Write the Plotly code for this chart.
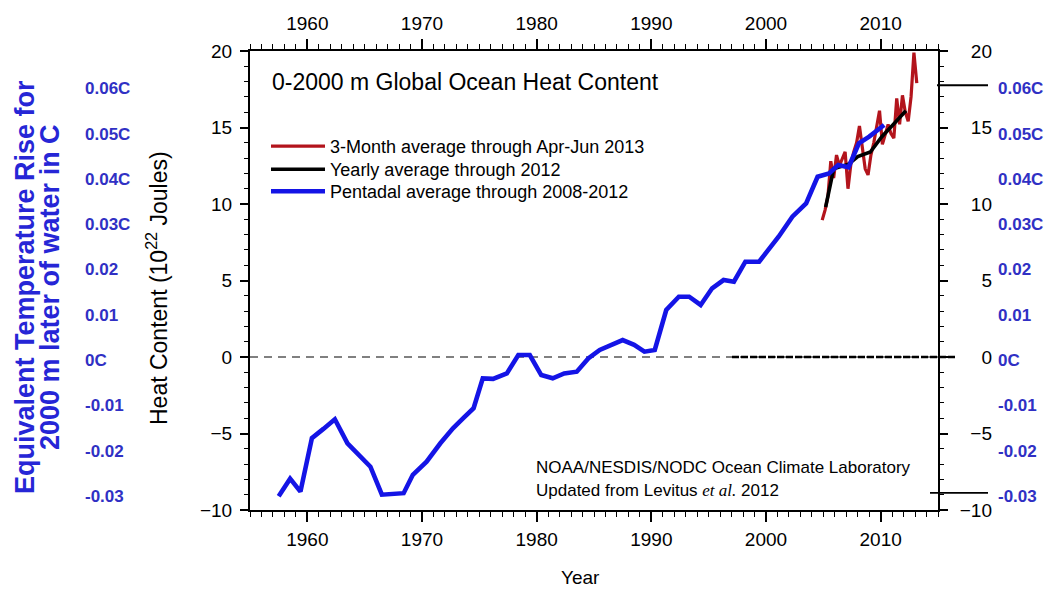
import plotly.graph_objects as go

# ---------------- data ----------------
pent_year = [1957.5, 1958.5, 1959.4, 1960.4, 1961.4, 1962.4, 1963.5, 1964.5, 1965.5, 1966.5,
             1967.5, 1968.4, 1969.2, 1970.4, 1971.6, 1972.7, 1973.6, 1974.5, 1975.3, 1976.2,
             1977.4, 1978.4, 1979.4, 1980.4, 1981.4, 1982.4, 1983.5, 1984.5, 1985.5, 1986.5,
             1987.5, 1988.5, 1989.4, 1990.3, 1991.3, 1992.4, 1993.3, 1994.3, 1995.3, 1996.3,
             1997.2, 1998.2, 1999.4, 2000.2, 2001.1, 2002.3, 2003.5, 2004.5, 2005.5, 2006.3,
             2007.2, 2008.1, 2009.0, 2010.3]
pent_hc = [-9.1, -7.95, -8.8, -5.3, -4.7, -4.07, -5.64, -6.4, -7.17, -9.0,
           -8.95, -8.9, -7.7, -6.84, -5.64, -4.66, -4.0, -3.35, -1.4, -1.43,
           -1.07, 0.13, 0.13, -1.18, -1.39, -1.07, -0.96, -0.1, 0.46, 0.8,
           1.11, 0.8, 0.35, 0.46, 3.07, 3.94, 3.94, 3.4, 4.49, 5.03,
           4.92, 6.23, 6.23, 7.0, 7.86, 9.17, 10.04, 11.78, 12.0, 12.55,
           12.4, 13.97, 14.4, 15.16]

year_x = [2005.2, 2005.9, 2007.2, 2008.0, 2009.1, 2010.1, 2011.1, 2012.2]
year_hc = [9.8, 12.3, 12.6, 13.1, 13.4, 14.4, 15.2, 16.1]

q_x = [2004.9, 2005.15, 2005.4, 2005.65, 2005.9, 2006.15, 2006.4, 2006.65, 2006.9, 2007.15,
       2007.4, 2007.65, 2007.9, 2008.15, 2008.4, 2008.65, 2008.9, 2009.15, 2009.4, 2009.65,
       2009.9, 2010.15, 2010.4, 2010.65, 2010.9, 2011.15, 2011.4, 2011.65, 2011.9, 2012.15,
       2012.4, 2012.65, 2012.9, 2013.15]
q_hc = [8.95, 9.6, 10.5, 12.8, 11.7, 13.2, 12.5, 13.0, 13.4, 11.0,
        12.6, 13.4, 14.0, 15.1, 13.6, 12.3, 11.9, 13.2, 14.0, 15.0,
        16.1, 13.9, 14.5, 15.2, 14.6, 14.3, 16.9, 15.2, 17.1, 16.0,
        15.4, 17.0, 19.9, 17.9]

x_ticks = [1960, 1970, 1980, 1990, 2000, 2010]
hc_ticks = [-10, -5, 0, 5, 10, 15, 20]
temp_vals = [0.06, 0.05, 0.04, 0.03, 0.02, 0.01, 0.0, -0.01, -0.02, -0.03]
temp_text = ["0.06C", "0.05C", "0.04C", "0.03C", "0.02", "0.01", "0C", "-0.01", "-0.02", "-0.03"]
HC_PER_DEGC = 296.0   # 10^22 J per 1 C for 0-2000 m layer (as drawn)

legend_names = ["3-Month average through Apr-Jun 2013",
                "Yearly average through 2012",
                "Pentadal average through 2008-2012"]

# ---------------- layout helpers ----------------
W, H = 1050, 592
ML, MR, MT, MB = 10, 10, 10, 10
PW, PH = W - ML - MR, H - MT - MB


def px(xp):
    return (xp - ML) / PW


def py(yp):
    return (H - MB - yp) / PH


FONT = "Liberation Sans, Arial, Helvetica, sans-serif"
BLUE_TXT = "#3030c4"
temp_pos = [t * HC_PER_DEGC - 0.2 for t in temp_vals]

fig = go.Figure()
fig.add_trace(go.Scatter(x=q_x, y=q_hc, mode="lines", name=legend_names[0],
                         line=dict(color="#b3141c", width=3.2), legend="legend"))
fig.add_trace(go.Scatter(x=year_x, y=year_hc, mode="lines", name=legend_names[1],
                         line=dict(color="black", width=3.6), legend="legend2"))
fig.add_trace(go.Scatter(x=pent_year, y=pent_hc, mode="lines", name=legend_names[2],
                         line=dict(color="#1414e6", width=4.6), legend="legend3"))

# invisible helper traces so the extra axes are drawn
for xa, ya in [("x2", "y"), ("x", "y2"), ("x", "y3"), ("x", "y4"), ("x", "y5")]:
    fig.add_trace(go.Scatter(x=pent_year, y=pent_hc, xaxis=xa, yaxis=ya, mode="lines",
                             line=dict(width=0), opacity=0, showlegend=False,
                             hoverinfo="skip"))

xdom = [px(250), px(938)]
ydom = [py(510), py(51)]

common_x = dict(range=[1955, 2015], tickvals=x_ticks, ticks="outside", ticklen=10,
                tickwidth=1.5, tickcolor="black", showgrid=False, zeroline=False,
                showline=True, linewidth=2, linecolor="black",
                tickfont=dict(family=FONT, size=19, color="black"),
                minor=dict(dtick=1, tick0=1955, ticks="outside", ticklen=5,
                           tickwidth=1.2, tickcolor="black", showgrid=False))
common_y = dict(range=[-10, 20], tickvals=hc_ticks, ticks="outside", ticklen=8,
                tickwidth=1.5, tickcolor="black", showgrid=False, zeroline=False,
                showline=True, linewidth=2, linecolor="black",
                tickfont=dict(family=FONT, size=19, color="black"),
                minor=dict(dtick=1, tick0=-10, ticks="outside", ticklen=4,
                           tickwidth=1.2, tickcolor="black", showgrid=False))

leg_common = dict(xanchor="left", yanchor="top", bgcolor="rgba(0,0,0,0)",
                  font=dict(family=FONT, size=18), itemwidth=54)

fig.update_layout(
    width=W, height=H,
    margin=dict(l=ML, r=MR, t=MT, b=MB, autoexpand=False),
    paper_bgcolor="white", plot_bgcolor="white",
    font=dict(family=FONT, color="black"),
    xaxis=dict(domain=xdom, anchor="y", side="bottom", ticklabelstandoff=1, **common_x),
    xaxis2=dict(domain=xdom, anchor="y", side="top", overlaying="x", matches="x",
                ticklabelstandoff=1, **common_x),
    yaxis=dict(domain=ydom, anchor="x", side="left", ticklabelstandoff=4, **common_y),
    yaxis2=dict(domain=ydom, anchor="x", side="right", overlaying="y", matches="y",
                showticklabels=False, **common_y),
    yaxis3=dict(domain=ydom, anchor="free", position=px(992), side="left",
                overlaying="y", matches="y", range=[-10, 20], tickvals=hc_ticks,
                ticks="", showline=False, showgrid=False, zeroline=False,
                tickfont=dict(family=FONT, size=19, color="black")),
    yaxis4=dict(domain=ydom, anchor="free", position=px(84), side="right",
                overlaying="y", matches="y", range=[-10, 20], tickvals=temp_pos,
                ticktext=temp_text, ticks="", showline=False, showgrid=False,
                zeroline=False,
                tickfont=dict(family=FONT, size=17, color=BLUE_TXT, weight="bold")),
    yaxis5=dict(domain=ydom, anchor="free", position=px(997), side="right",
                overlaying="y", matches="y", range=[-10, 20], tickvals=temp_pos,
                ticktext=temp_text, ticks="", showline=False, showgrid=False,
                zeroline=False,
                tickfont=dict(family=FONT, size=17, color=BLUE_TXT, weight="bold")),
    legend=dict(x=px(266), y=py(128), **leg_common),
    legend2=dict(x=px(266), y=py(151), **leg_common),
    legend3=dict(x=px(266), y=py(173), **leg_common),
    showlegend=True,
)

# reference lines
fig.add_shape(type="line", xref="x domain", yref="y", x0=0, x1=1, y0=0, y1=0,
              line=dict(color="#808080", width=2, dash="8px,6px"), layer="below")
fig.add_shape(type="line", xref="paper", yref="y", x0=px(732), x1=px(957), y0=0, y1=0,
              line=dict(color="black", width=2.5, dash="7px,2px"))
fig.add_shape(type="line", xref="paper", yref="y", x0=px(937), x1=px(988),
              y0=temp_vals[0] * HC_PER_DEGC, y1=temp_vals[0] * HC_PER_DEGC,
              line=dict(color="black", width=1.8))
fig.add_shape(type="line", xref="paper", yref="y", x0=px(930), x1=px(988),
              y0=temp_vals[-1] * HC_PER_DEGC, y1=temp_vals[-1] * HC_PER_DEGC,
              line=dict(color="black", width=1.8))

# texts
fig.add_annotation(text="0-2000 m Global Ocean Heat Content", xref="paper", yref="paper",
                   x=px(270), y=py(82), xanchor="left", yanchor="middle", showarrow=False,
                   font=dict(family=FONT, size=23, color="black"))
fig.add_annotation(text="NOAA/NESDIS/NODC Ocean Climate Laboratory", xref="paper",
                   yref="paper", x=px(534), y=py(467), xanchor="left", yanchor="middle",
                   showarrow=False, font=dict(family=FONT, size=17, color="black"))
fig.add_annotation(text="Updated from Levitus <span style='font-family:Liberation Serif'><i>et al.</i></span> 2012",
                   xref="paper", yref="paper", x=px(534), y=py(490), xanchor="left",
                   yanchor="middle", showarrow=False,
                   font=dict(family=FONT, size=17, color="black"))
fig.add_annotation(text="Year", xref="paper", yref="paper", x=px(580), y=py(577),
                   xanchor="center", yanchor="middle", showarrow=False,
                   font=dict(family=FONT, size=19, color="black"))
fig.add_annotation(text="Heat Content (10<sup>22</sup> Joules)", xref="paper", yref="paper",
                   x=px(157), y=py(288), xanchor="center", yanchor="middle",
                   textangle=-90, showarrow=False,
                   font=dict(family=FONT, size=23, color="black"))
fig.add_annotation(text="Equivalent Temperature Rise for", xref="paper", yref="paper",
                   x=px(25), y=py(287), xanchor="center", yanchor="middle",
                   textangle=-90, showarrow=False,
                   font=dict(family=FONT, size=27, color="#2626d6", weight="bold"))
fig.add_annotation(text="2000 m later of water in C", xref="paper", yref="paper",
                   x=px(50), y=py(287), xanchor="center", yanchor="middle",
                   textangle=-90, showarrow=False,
                   font=dict(family=FONT, size=27, color="#2626d6", weight="bold"))

fig.write_html("out.html",
               config={"displayModeBar": False},
               post_script="document.body.style.margin='0px';"
                           "document.body.style.overflow='hidden';")
